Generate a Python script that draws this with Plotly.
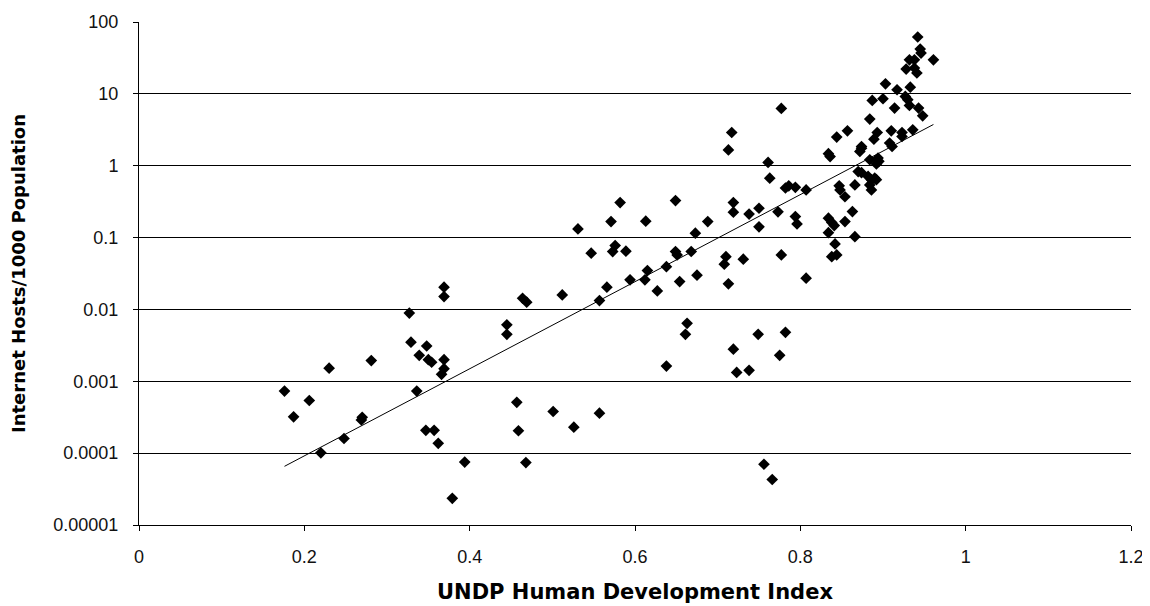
import numpy as np
import plotly.graph_objects as go

# UNDP Human Development Index (x) vs Internet hosts per 1000 population (y)
hdi = [
    0.176, 0.187, 0.206, 0.220, 0.230, 0.248, 0.270, 0.269, 0.281, 0.327,
    0.329, 0.339, 0.348, 0.350, 0.354, 0.369, 0.369, 0.366, 0.369, 0.369,
    0.336, 0.347, 0.357, 0.362, 0.394, 0.379, 0.457, 0.459, 0.468, 0.501,
    0.526, 0.557, 0.445, 0.445, 0.464, 0.469, 0.512, 0.531, 0.547, 0.557,
    0.566, 0.571, 0.576, 0.573, 0.582, 0.589, 0.594, 0.612, 0.615, 0.627,
    0.613, 0.638, 0.638, 0.649, 0.649, 0.651, 0.654, 0.777, 0.717, 0.713,
    0.761, 0.763, 0.782, 0.786, 0.794, 0.807, 0.834, 0.836, 0.844, 0.857,
    0.847, 0.848, 0.854, 0.854, 0.834, 0.838, 0.841, 0.834, 0.842, 0.838,
    0.844, 0.688, 0.673, 0.719, 0.719, 0.738, 0.750, 0.750, 0.773, 0.794,
    0.796, 0.668, 0.675, 0.710, 0.708, 0.731, 0.777, 0.807, 0.713, 0.663,
    0.661, 0.719, 0.723, 0.738, 0.749, 0.782, 0.775, 0.756, 0.766, 0.942,
    0.945, 0.946, 0.932, 0.938, 0.961, 0.928, 0.938, 0.941, 0.903, 0.917,
    0.933, 0.927, 0.930, 0.932, 0.887, 0.900, 0.914, 0.943, 0.948, 0.884,
    0.889, 0.893, 0.910, 0.923, 0.923, 0.936, 0.874, 0.908, 0.911, 0.874,
    0.872, 0.884, 0.894, 0.895, 0.892, 0.870, 0.874, 0.866, 0.882, 0.886,
    0.890, 0.892, 0.886, 0.884, 0.863, 0.866,
]
hosts = [
    7.3e-4, 3.2e-4, 5.4e-4, 1.01e-4, 1.52e-3, 1.6e-4, 3.15e-4, 2.9e-4, 1.94e-3, 8.9e-3,
    3.5e-3, 2.3e-3, 3.1e-3, 2.0e-3, 1.84e-3, 2.0e-3, 1.5e-3, 1.25e-3, 0.0204, 0.0151,
    7.3e-4, 2.08e-4, 2.08e-4, 1.37e-4, 7.5e-5, 2.35e-5, 5.1e-4, 2.05e-4, 7.4e-5, 3.8e-4,
    2.3e-4, 3.6e-4, 6.1e-3, 4.5e-3, 0.0143, 0.0126, 0.0159, 0.132, 0.0607, 0.0133,
    0.0204, 0.167, 0.0775, 0.0638, 0.307, 0.0646, 0.0258, 0.0258, 0.0347, 0.0181,
    0.169, 0.0394, 1.63e-3, 0.327, 0.064, 0.0574, 0.0244, 6.27, 2.9, 1.66,
    1.11, 0.67, 0.49, 0.525, 0.50, 0.46, 1.47, 1.34, 2.5, 3.06,
    0.525, 0.46, 0.37, 0.167, 0.186, 0.162, 0.147, 0.117, 0.0817, 0.0543,
    0.0574, 0.167, 0.115, 0.307, 0.226, 0.212, 0.256, 0.141, 0.228, 0.196,
    0.155, 0.064, 0.030, 0.0543, 0.0426, 0.05, 0.0574, 0.0272, 0.0227, 6.4e-3,
    4.5e-3, 2.8e-3, 1.33e-3, 1.42e-3, 4.5e-3, 4.8e-3, 2.3e-3, 7.0e-5, 4.3e-5, 61.8,
    42, 37, 29.8, 29.8, 29.8, 22.1, 22.9, 19.5, 13.8, 11.4,
    12.4, 9.2, 8.3, 6.9, 8.1, 8.55, 6.34, 6.34, 4.95, 4.46,
    2.34, 2.9, 3.06, 2.9, 2.55, 3.16, 1.85, 2.07, 1.85, 1.75,
    1.58, 1.21, 1.28, 1.15, 1.06, 0.83, 0.80, 0.54, 0.71, 0.64,
    0.67, 0.64, 0.46, 0.54, 0.23, 0.103,
]

# Exponential trendline as drawn in the chart: log10(y) = trend_intercept + trend_slope * x
trend_intercept = -5.25
trend_slope = 6.06

x_tickvals = [0, 0.2, 0.4, 0.6, 0.8, 1.0, 1.2]
x_ticktext = ["0", "0.2", "0.4", "0.6", "0.8", "1", "1.2"]
y_tickvals = [1e-5, 1e-4, 1e-3, 1e-2, 1e-1, 1, 10, 100]
y_ticktext = ["0.00001", "0.0001", "0.001", "0.01", "0.1", "1", "10", "100"]

xa = np.array(hdi)
trend_x = np.linspace(xa.min(), xa.max(), 60)
trend_y = 10 ** (trend_intercept + trend_slope * trend_x)

fig = go.Figure()
fig.add_trace(go.Scatter(
    x=trend_x, y=trend_y, mode="lines",
    line=dict(color="black", width=1), hoverinfo="skip", showlegend=False,
))
fig.add_trace(go.Scatter(
    x=hdi, y=hosts, mode="markers",
    marker=dict(symbol="diamond", size=9, color="black"),
    showlegend=False,
))

tick_font = dict(family="Liberation Sans, Arial, sans-serif", size=18, color="#111")
title_family = "DejaVu Sans, Verdana, sans-serif"
# the page body adds an 8px offset, so the figure is 8px smaller than the window
fig.update_layout(
    width=1142, height=598,
    margin=dict(l=131, r=19, t=14, b=81),
    paper_bgcolor="white", plot_bgcolor="white",
    showlegend=False,
)
fig.update_xaxes(
    range=[0, 1.2], tickvals=x_tickvals, ticktext=x_ticktext,
    showgrid=False, zeroline=False, automargin=False,
    showline=True, linecolor="black", linewidth=1,
    ticks="outside", ticklen=5, tickcolor="black",
    tickfont=tick_font, ticklabelstandoff=10,
    title=dict(text="<b>UNDP Human Development Index</b>",
               font=dict(family=title_family, size=21, color="black"),
               standoff=18),
)
fig.update_yaxes(
    type="log", range=[-5, 2], tickvals=y_tickvals, ticktext=y_ticktext,
    showgrid=True, gridcolor="black", gridwidth=1,
    zeroline=False, automargin=False,
    showline=True, linecolor="black", linewidth=1,
    ticks="outside", ticklen=5, tickcolor="black",
    tickfont=tick_font, ticklabelstandoff=11,
    title=dict(text="<b>Internet Hosts/1000 Population</b>",
               font=dict(family=title_family, size=18, color="black"),
               standoff=30),
)

fig.write_html("out.html")
